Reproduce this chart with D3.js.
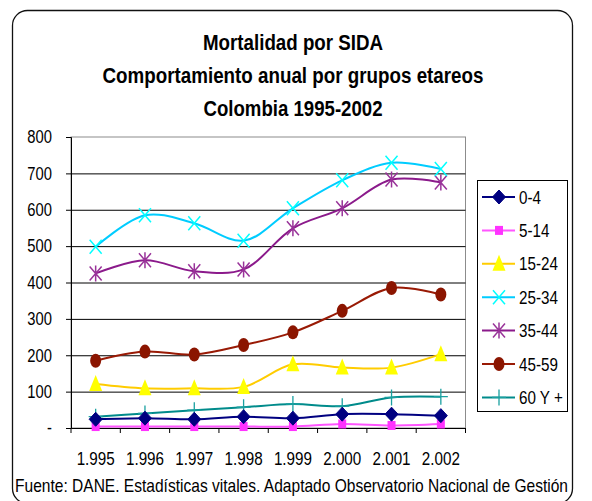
<!DOCTYPE html>
<html>
<head>
<meta charset="utf-8">
<script src="https://cdn.jsdelivr.net/npm/d3@7"></script>
<style>
  body { margin: 0; background: #fff; }
  svg { display: block; }
  text { font-family: "Liberation Sans", Arial, sans-serif; }
</style>
</head>
<body>
<svg width="592" height="501"></svg>
<script>
var svg = d3.select('svg');

// data
const years = ['1.995', '1.996', '1.997', '1.998', '1.999', '2.000', '2.001', '2.002'];
const groups = ['0-4', '5-14', '15-24', '25-34', '35-44', '45-59', '60 Y +'];
const g0_4   = [24, 27, 24, 31, 27, 38, 38, 34];
const g5_14  = [4, 4, 4, 4, 4, 11, 7, 11];
const g15_24 = [121, 109, 109, 113, 175, 166, 166, 203];
const g25_34 = [498, 585, 563, 515, 604, 681, 729, 712];
const g35_44 = [425, 461, 431, 436, 549, 604, 683, 675];
const g45_59 = [185, 210, 202, 228, 263, 322, 385, 367];
const g60    = [31, 40, 49, 57, 66, 60, 84, 86];
const yTicks = [0, 100, 200, 300, 400, 500, 600, 700, 800];

const series = [
    {name: groups[0], values: g0_4,   line: '#000080', fill: '#000080', marker: 'diamond'},
    {name: groups[1], values: g5_14,  line: '#ff55ff', fill: '#ff33ff', marker: 'square'},
    {name: groups[2], values: g15_24, line: '#ffcc00', fill: '#ffff00', marker: 'triangle'},
    {name: groups[3], values: g25_34, line: '#00ccff', fill: '#00ffff', marker: 'x'},
    {name: groups[4], values: g35_44, line: '#8b1a8b', fill: '#993399', marker: 'star'},
    {name: groups[5], values: g45_59, line: '#991a05', fill: '#8b1500', marker: 'circle'},
    {name: groups[6], values: g60,    line: '#008b8b', fill: '#1aa0a0', marker: 'plus'}
];

// squeeze text horizontally, the original font is a narrow one
function condense(sel, k) {
    sel.each(function() {
        const len = this.getComputedTextLength();
        d3.select(this).attr('textLength', len * k).attr('lengthAdjust', 'spacingAndGlyphs');
    });
}

// rounded chart frame
svg.append('rect')
    .attr('x', 12.5).attr('y', 10.5)
    .attr('width', 560).attr('height', 493)
    .attr('rx', 15)
    .attr('fill', 'white')
    .attr('stroke', '#111')
    .attr('stroke-width', 1.3);

// titles
const titles = ['Mortalidad por SIDA', 'Comportamiento anual por grupos etareos', 'Colombia 1995-2002'];
const titleWidths = [180, 381, 179];
svg.append('g').selectAll('text').data(titles).enter().append('text')
    .attr('x', 293)
    .attr('y', (d, i) => 50 + i * 33)
    .attr('text-anchor', 'middle')
    .attr('font-size', 22)
    .attr('font-weight', 'bold')
    .attr('textLength', (d, i) => titleWidths[i])
    .attr('lengthAdjust', 'spacingAndGlyphs')
    .text(d => d);

// scales
let x = d3.scaleBand().domain(years).range([71, 465.5]);
let y = d3.scaleLinear().domain([0, 800]).range([428, 137]);

// plot area border
svg.append('rect')
    .attr('x', 71).attr('y', y(800))
    .attr('width', 465.5 - 71).attr('height', y(0) - y(800))
    .attr('fill', 'none')
    .attr('stroke', '#8c8c8c');

// gridlines
svg.append('g')
    .attr('transform', 'translate(71,0)')
    .call(d3.axisLeft(y).tickValues(yTicks.slice(1, -1)).tickSize(-(465.5 - 71)).tickFormat(''))
    .call(g => g.select('.domain').remove())
    .call(g => g.selectAll('line').attr('stroke', '#000').attr('stroke-width', 1));

// y axis
svg.append('g')
    .attr('transform', 'translate(71,0)')
    .call(d3.axisLeft(y).tickValues(yTicks).tickSize(5).tickPadding(14)
        .tickFormat(d => d === 0 ? '-' : d))
    .call(g => g.select('.domain').attr('stroke', '#000'))
    .call(g => g.selectAll('line').attr('stroke', '#000'))
    .call(g => g.selectAll('text').attr('font-size', 18).attr('fill', '#000')
        .style('font-family', '"Liberation Sans", sans-serif')
        .call(condense, 0.82));

// x axis: labels centred in bands, tick marks on band edges
svg.append('g')
    .attr('transform', 'translate(0,' + y(0) + ')')
    .call(d3.axisBottom(x).tickSize(0).tickPadding(24))
    .call(g => g.select('.domain').attr('stroke', '#000'))
    .call(g => g.selectAll('text').attr('font-size', 19).attr('fill', '#000')
        .style('font-family', '"Liberation Sans", sans-serif')
        .call(condense, 0.8));

const edges = years.map(d => x(d)).concat([x.range()[1]]);
svg.append('g').selectAll('line').data(edges).enter().append('line')
    .attr('x1', d => d).attr('x2', d => d)
    .attr('y1', y(0)).attr('y2', y(0) + 5)
    .attr('stroke', '#000');

// markers
function drawMarker(g, type, cx, cy, s) {
    if (type === 'diamond') {
        g.append('path')
            .attr('d', `M${cx},${cy - 7}L${cx + 6.5},${cy}L${cx},${cy + 7}L${cx - 6.5},${cy}Z`)
            .attr('fill', s.fill).attr('stroke', s.line);
    } else if (type === 'square') {
        g.append('rect').attr('x', cx - 4).attr('y', cy - 4.5).attr('width', 8).attr('height', 9)
            .attr('fill', s.fill);
    } else if (type === 'triangle') {
        g.append('path')
            .attr('d', `M${cx},${cy - 9}L${cx + 6.5},${cy + 7}L${cx - 6.5},${cy + 7}Z`)
            .attr('fill', s.fill);
    } else if (type === 'x') {
        g.append('path')
            .attr('d', `M${cx - 6},${cy - 7}L${cx + 6},${cy + 7}M${cx + 6},${cy - 7}L${cx - 6},${cy + 7}`)
            .attr('stroke', s.fill).attr('stroke-width', 1.5).attr('fill', 'none');
    } else if (type === 'star') {
        g.append('path')
            .attr('d', `M${cx - 6},${cy - 7}L${cx + 6},${cy + 7}M${cx + 6},${cy - 7}L${cx - 6},${cy + 7}M${cx},${cy - 8}L${cx},${cy + 8}`)
            .attr('stroke', s.fill).attr('stroke-width', 1.5).attr('fill', 'none');
    } else if (type === 'circle') {
        g.append('ellipse').attr('cx', cx).attr('cy', cy).attr('rx', 5.5).attr('ry', 7)
            .attr('fill', s.fill);
    } else if (type === 'plus') {
        g.append('path')
            .attr('d', `M${cx - 7},${cy}L${cx + 7},${cy}M${cx},${cy - 8}L${cx},${cy + 8}`)
            .attr('stroke', s.fill).attr('stroke-width', 1.3).attr('fill', 'none');
    }
}

const line = d3.line()
    .x((d, i) => x(years[i]) + x.bandwidth() / 2)
    .y(d => y(d))
    .curve(d3.curveCatmullRom.alpha(0.5));

// draw from the bottom of the legend up so the cyan ends on top
const plot = svg.append('g');
series.slice().reverse().forEach(function(s) {
    const g = plot.append('g');
    g.append('path')
        .attr('d', line(s.values))
        .attr('fill', 'none')
        .attr('stroke', s.line)
        .attr('stroke-width', 2);
    s.values.forEach(function(v, i) {
        drawMarker(g, s.marker, x(years[i]) + x.bandwidth() / 2, y(v), s);
    });
});

// legend
const legend = svg.append('g');
legend.append('rect')
    .attr('x', 477.5).attr('y', 180.5)
    .attr('width', 90).attr('height', 231)
    .attr('fill', 'white')
    .attr('stroke', '#000');
series.forEach(function(s, i) {
    const ly = 197 + i * 33.4;
    const g = legend.append('g');
    g.append('line')
        .attr('x1', 482).attr('x2', 515)
        .attr('y1', ly).attr('y2', ly)
        .attr('stroke', s.line).attr('stroke-width', 2);
    drawMarker(g, s.marker, 499, ly, s);
    g.append('text')
        .attr('x', 519).attr('y', ly + 6.5)
        .attr('font-size', 19)
        .text(s.name)
        .call(condense, 0.8);
});

// source note
svg.append('text')
    .attr('x', 15).attr('y', 492)
    .attr('font-size', 19)
    .attr('textLength', 553)
    .attr('lengthAdjust', 'spacingAndGlyphs')
    .text('Fuente: DANE. Estadísticas vitales. Adaptado Observatorio Nacional de Gestión');
</script>
</body>
</html>
